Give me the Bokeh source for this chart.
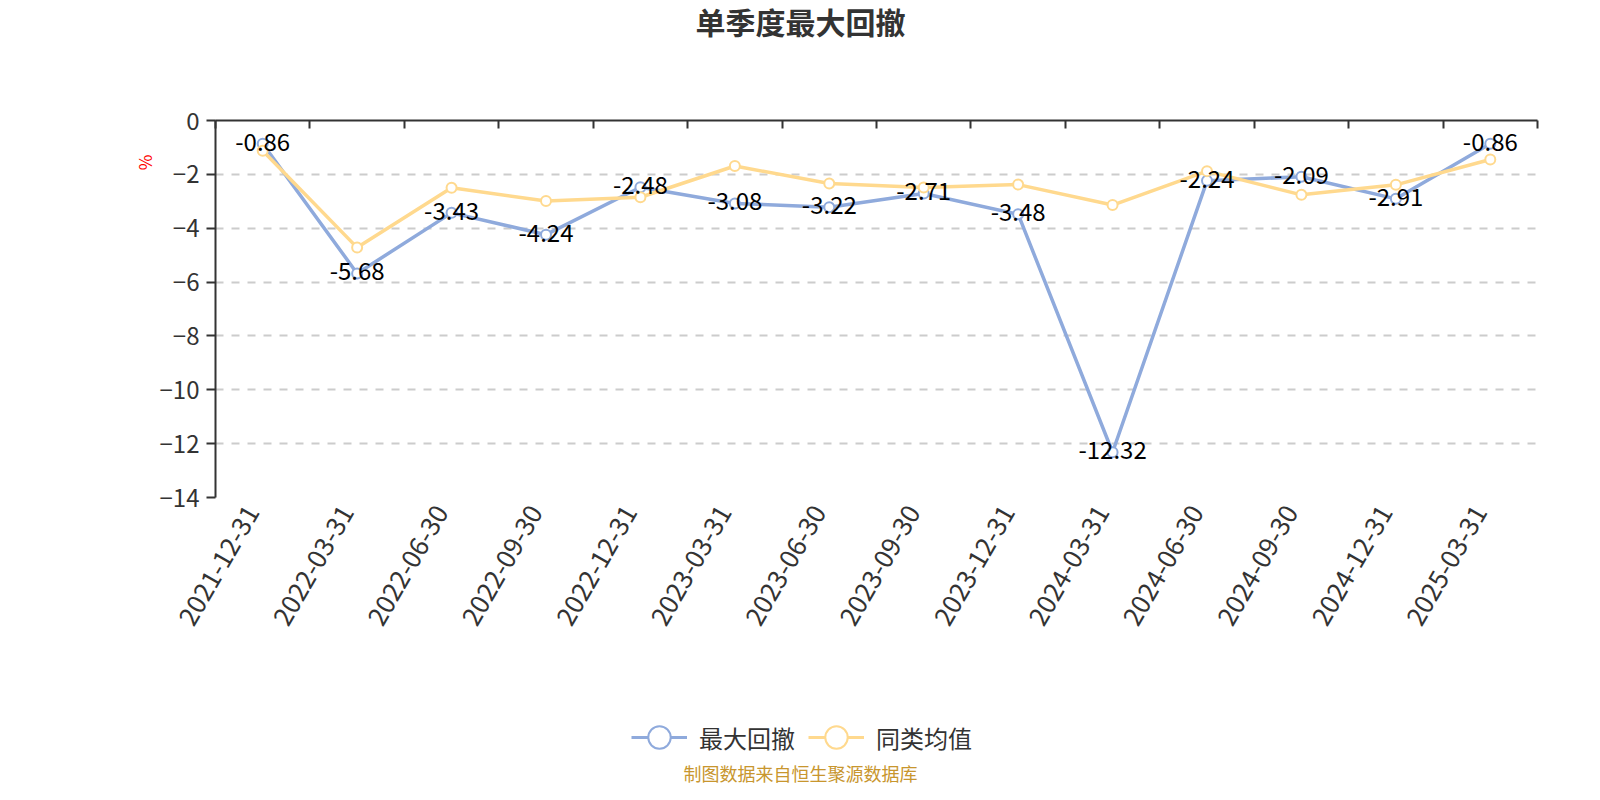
from math import pi

from bokeh.core.properties import value
from bokeh.embed import file_html
from bokeh.layouts import column
from bokeh.models import (ColumnDataSource, FixedTicker, Grid, Label, Legend, LegendItem,
                          LinearAxis, Range1d, Title)
from bokeh.plotting import figure
from bokeh.resources import INLINE

# Quarter ends on the x axis
quarters = ["2021-12-31", "2022-03-31", "2022-06-30", "2022-09-30", "2022-12-31",
            "2023-03-31", "2023-06-30", "2023-09-30", "2023-12-31", "2024-03-31",
            "2024-06-30", "2024-09-30", "2024-12-31", "2025-03-31"]

# Quarterly max drawdown of the fund (%)
max_drawdown = [-0.86, -5.68, -3.43, -4.24, -2.48, -3.08, -3.22,
                -2.71, -3.48, -12.32, -2.24, -2.09, -2.91, -0.86]

# Peer average (%)
peer_avg = [-1.12, -4.72, -2.50, -2.99, -2.85, -1.69, -2.34,
            -2.49, -2.38, -3.14, -1.88, -2.76, -2.39, -1.45]

y_ticks = [0, -2, -4, -6, -8, -10, -12, -14]

FONT = "Noto Sans CJK SC"
BLUE = "#8FAADC"
YELLOW = "#FFD98E"
AXIS = "#333333"
W = 1584
LEFT = 215  # frames of all rows line up with the chart frame


def blank(height):
    # strip with no axes, used for the title and the legend/footer rows
    f = figure(width=W, height=height, x_range=Range1d(0, W), y_range=Range1d(100, 100 + height),
               x_axis_type=None, y_axis_type=None, output_backend="svg",
               toolbar_location=None, min_border=0)
    f.outline_line_color = None
    f.xgrid.visible = False
    f.ygrid.visible = False
    return f


# ---- title row
head = blank(50)
head.add_layout(Label(x=800 - LEFT, y=30, x_units="screen", y_units="screen",
                      text="单季度最大回撤", text_font=FONT, text_font_size="30px",
                      text_font_style="bold", text_color=AXIS,
                      text_align="center", text_baseline="middle"))

# ---- main chart
n = len(quarters)
centers = [i + 0.5 for i in range(n)]  # one band per quarter
label_pos = [c - 0.11 for c in centers]  # rotated labels end at the band centre

src = ColumnDataSource(dict(
    x=centers,
    dd=max_drawdown,
    avg=peer_avg,
    dd_label=[f"{v:.2f}" for v in max_drawdown],
))

p = figure(width=W, height=610,
           x_range=Range1d(0, n), y_range=Range1d(-14, 0),
           x_axis_type=None, y_axis_type=None,
           output_backend="svg", toolbar_location=None,
           min_border_left=LEFT, min_border_right=47,
           min_border_top=70, min_border_bottom=163)
p.outline_line_color = None

y_axis = LinearAxis(ticker=FixedTicker(ticks=y_ticks))
y_axis.axis_line_color = AXIS
y_axis.axis_line_width = 2
y_axis.major_tick_line_color = AXIS
y_axis.major_tick_line_width = 2
y_axis.major_tick_in = 0
y_axis.major_tick_out = 9
y_axis.minor_tick_line_color = None
y_axis.major_label_standoff = 7
y_axis.major_label_text_font = FONT
y_axis.major_label_text_font_size = "24px"
y_axis.major_label_text_color = AXIS
p.add_layout(y_axis, "left")

# unit name near the top of the y axis
p.add_layout(Title(text="%", align="right", offset=34, standoff=0, text_font=FONT,
                   text_font_size="17px", text_font_style="normal",
                   text_color="#ff0000"), "left")

# axis line sitting at zero (top), ticks between the quarters
edges = list(range(n + 1))
top_axis = LinearAxis(ticker=FixedTicker(ticks=edges),
                      major_label_overrides={e: "" for e in edges})
top_axis.axis_line_color = AXIS
top_axis.axis_line_width = 2
top_axis.major_tick_line_color = AXIS
top_axis.major_tick_line_width = 2
top_axis.major_tick_in = 8
top_axis.major_tick_out = 0
top_axis.minor_tick_line_color = None
p.add_layout(top_axis, "above")

x_axis = LinearAxis(ticker=FixedTicker(ticks=label_pos),
                    major_label_overrides={c: q for c, q in zip(label_pos, quarters)})
x_axis.axis_line_color = None
x_axis.major_tick_line_color = None
x_axis.minor_tick_line_color = None
x_axis.major_label_orientation = pi / 3
x_axis.major_label_standoff = 4
x_axis.major_label_text_font = FONT
x_axis.major_label_text_font_size = "26px"
x_axis.major_label_text_color = AXIS
p.add_layout(x_axis, "below")

p.add_layout(Grid(dimension=1, ticker=FixedTicker(ticks=y_ticks[1:]),
                  grid_line_color="#cccccc", grid_line_width=2, grid_line_dash="8 8"))

p.line("x", "dd", source=src, line_color=BLUE, line_width=3.5)
p.scatter("x", "dd", source=src, size=10, fill_color="white", line_color=BLUE, line_width=2)
p.line("x", "avg", source=src, line_color=YELLOW, line_width=3.5)
p.scatter("x", "avg", source=src, size=10, fill_color="white", line_color=YELLOW, line_width=2)

p.text("x", "dd", text="dd_label", source=src, text_font=value(FONT),
       text_font_size="24px", text_color="#000000",
       text_align="center", text_baseline="middle", y_offset=-2)

# ---- legend and source note; the series here fall outside this strip's range
foot = blank(124)
items = []
for name, col, color in [("最大回撤", "dd", BLUE), ("同类均值", "avg", YELLOW)]:
    ln = foot.line("x", col, source=src, line_color=color, line_width=3)
    mk = foot.scatter("x", col, source=src, size=9, fill_color="white",
                      line_color=color, line_width=2)
    items.append(LegendItem(label=name, renderers=[ln, mk]))

legend = Legend(items=items, location=(631 - LEFT, 15), orientation="horizontal")
legend.glyph_width = 56
legend.glyph_height = 64
legend.label_standoff = 12
legend.spacing = 13
legend.padding = 0
legend.margin = 0
legend.border_line_color = None
legend.background_fill_alpha = 0
legend.label_text_font = FONT
legend.label_text_font_size = "24px"
legend.label_text_color = AXIS
foot.add_layout(legend)

foot.add_layout(Label(x=800 - LEFT, y=12, x_units="screen", y_units="screen",
                      text="制图数据来自恒生聚源数据库", text_font=FONT,
                      text_font_size="18px", text_color="#C8962E",
                      text_align="center", text_baseline="middle"))

page = column(head, p, foot, spacing=0)
open("out.html", "w").write(file_html(page, INLINE))
